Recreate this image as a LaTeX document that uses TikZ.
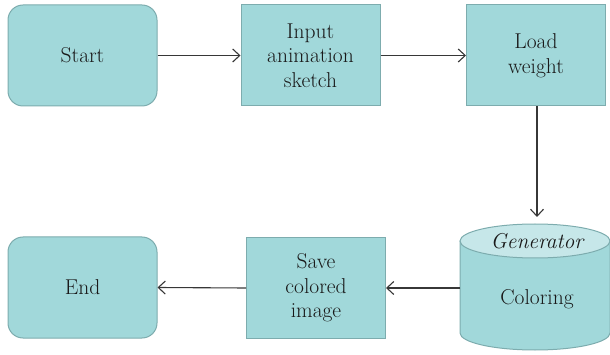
\documentclass[tikz,border=0pt]{standalone}
\usetikzlibrary{arrows.meta,positioning}
\definecolor{boxfill}{RGB}{161,216,218}
\definecolor{boxline}{RGB}{125,172,174}
\definecolor{topfill}{RGB}{198,231,233}
\definecolor{linecol}{RGB}{55,55,55}
\begin{document}
\begin{tikzpicture}[x=1pt,y=-1pt,
  every node/.style={font=\fontsize{21.5}{24.5}\selectfont, text=black!90, align=center},
  term/.style={draw=boxline, fill=boxfill, line width=1pt, rounded corners=15pt, minimum width=149pt, minimum height=101pt, inner sep=0pt},
  proc/.style={draw=boxline, fill=boxfill, line width=1pt, minimum width=139pt, minimum height=101pt, inner sep=0pt},
  conn/.style={draw=linecol, line width=1.1pt, -{Straight Barb[length=7pt,width=13pt,line width=1.1pt]}}
]
\useasboundingbox (0,0) rectangle (610,355);
% top row
\node[term] (start) at (82.5,55.5) {Start};
\node[proc] (input) at (310.5,55.5) {Input\\animation\\sketch};
\node[proc] (load) at (536,55.5) {Load\\weight};
% cylinder
\fill[boxfill] (460,241) -- (460,333) arc[start angle=180,end angle=0,x radius=75,y radius=17] -- (610,241) -- cycle;
\draw[boxline, line width=1pt] (460,241) -- (460,333) arc[start angle=180,end angle=0,x radius=75,y radius=17] -- (610,241);
\draw[boxline, fill=topfill, line width=1pt] (535,241) ellipse[x radius=75, y radius=17];
\node[inner sep=0pt, minimum width=150pt, minimum height=110pt] (cyl) at (535,295) {};
\node at (537,241) {\itshape Generator};
\node at (537,299) {Coloring};
\coordinate (cyltop) at (537,217);
\coordinate (cylleft) at (460,288);
% bottom row
\node[term] (end) at (82.5,287.5) {End};
\node[proc] (save) at (316,288) {Save\\colored\\image};
% connectors
\draw[conn] (start.east) -- (input.west);
\draw[conn] (input.east) -- (load.west);
\draw[conn] (load.south -| cyltop) -- (cyltop);
\draw[conn] (cylleft) -- (save.east |- cylleft);
\draw[conn] (save.west) -- (end.east);
\end{tikzpicture}
\end{document}
